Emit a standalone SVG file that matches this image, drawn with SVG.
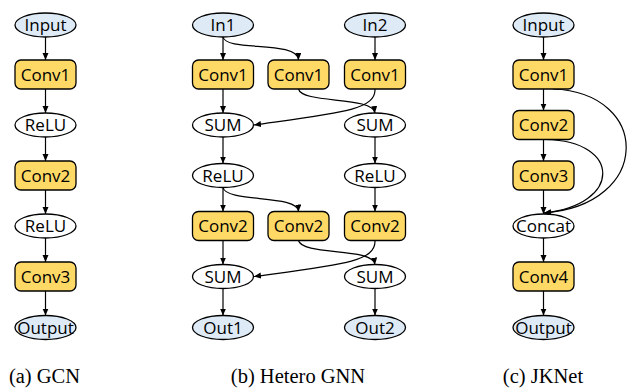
<svg xmlns="http://www.w3.org/2000/svg" width="627" height="389" viewBox="0 0 627 389">
<defs>
<style>
.io{fill:#deebf7;stroke:#000;stroke-width:1.3}
.op{fill:#fff;stroke:#000;stroke-width:1.3}
.cv{fill:#ffd966;stroke:#000;stroke-width:1.3}
.t{font-family:"Open Sans","Liberation Sans",sans-serif;font-size:17px;text-anchor:middle;fill:#000}
.cap{font-family:"Liberation Serif","Times New Roman",serif;font-size:20.5px;text-anchor:middle;fill:#000}
.e{fill:none;stroke:#000;stroke-width:1.2;marker-end:url(#ah)}
</style>
<marker id="ah" markerUnits="userSpaceOnUse" markerWidth="8" markerHeight="7" refX="7" refY="3" orient="auto">
<path d="M0,0 L7,3 L0,6 z" fill="#000"/>
</marker>
</defs>
<rect width="627" height="389" fill="#fff"/>

<g id="connectors">
<!-- GCN -->
<line class="e" x1="45.5" y1="37" x2="45.5" y2="60"/>
<line class="e" x1="45.5" y1="89" x2="45.5" y2="113"/>
<line class="e" x1="45.5" y1="137" x2="45.5" y2="161"/>
<line class="e" x1="45.5" y1="190" x2="45.5" y2="214"/>
<line class="e" x1="45.5" y1="238" x2="45.5" y2="262"/>
<line class="e" x1="45.5" y1="291" x2="45.5" y2="315.5"/>
<!-- Hetero -->
<line class="e" x1="223" y1="37" x2="223" y2="60"/>
<line class="e" x1="375" y1="37" x2="375" y2="60"/>
<path class="e" d="M223,37 C226,52 298,40 298.5,60"/>
<line class="e" x1="223" y1="89" x2="223" y2="113"/>
<path class="e" d="M298.5,89 C302,104 373,96 375,113"/>
<path class="e" d="M375,89 C376,110 340,113 254,125"/>
<line class="e" x1="223" y1="137" x2="223" y2="163.5"/>
<line class="e" x1="375" y1="137" x2="375" y2="163.5"/>
<line class="e" x1="223" y1="187.5" x2="223" y2="211.5"/>
<line class="e" x1="375" y1="187.5" x2="375" y2="211.5"/>
<path class="e" d="M223,187.5 C226,203 298,194 298.5,211.5"/>
<line class="e" x1="223" y1="240.5" x2="223" y2="264.5"/>
<path class="e" d="M298.5,240.5 C302,256 373,247 375,264.5"/>
<path class="e" d="M375,240.5 C376,262 340,265 254,276.5"/>
<line class="e" x1="223" y1="288.5" x2="223" y2="315.5"/>
<line class="e" x1="375" y1="288.5" x2="375" y2="315.5"/>
<!-- JKNet -->
<line class="e" x1="543.5" y1="37" x2="543.5" y2="60"/>
<line class="e" x1="543.5" y1="89" x2="543.5" y2="110.5"/>
<line class="e" x1="543.5" y1="139.5" x2="543.5" y2="161"/>
<line class="e" x1="543.5" y1="190" x2="543.5" y2="214"/>
<path class="e" d="M553,89 C652,93 652,205 544,213"/>
<path class="e" d="M546,139.5 C622,141 622,205 544,213"/>
<line class="e" x1="543.5" y1="238" x2="543.5" y2="262"/>
<line class="e" x1="543.5" y1="291" x2="543.5" y2="315.5"/>
</g>

<!-- GCN nodes -->
<g id="gcn-input"><ellipse class="io" cx="45.5" cy="25" rx="30.5" ry="12"/><text class="t" x="45.5" y="31">Input</text></g>
<g id="gcn-conv1"><rect class="cv" x="15" y="60" width="61" height="29" rx="6"/><text class="t" x="45.5" y="80.5">Conv1</text></g>
<g id="gcn-relu1"><ellipse class="op" cx="45.5" cy="125" rx="30.5" ry="12"/><text class="t" x="45.5" y="131">ReLU</text></g>
<g id="gcn-conv2"><rect class="cv" x="15" y="161" width="61" height="29" rx="6"/><text class="t" x="45.5" y="181.5">Conv2</text></g>
<g id="gcn-relu2"><ellipse class="op" cx="45.5" cy="226" rx="30.5" ry="12"/><text class="t" x="45.5" y="232">ReLU</text></g>
<g id="gcn-conv3"><rect class="cv" x="15" y="262" width="61" height="29" rx="6"/><text class="t" x="45.5" y="282.5">Conv3</text></g>
<g id="gcn-output"><ellipse class="io" cx="45.5" cy="327.5" rx="30.5" ry="12"/><text class="t" x="45.5" y="333.5">Output</text></g>

<!-- Hetero nodes -->
<g id="het-in1"><ellipse class="io" cx="223" cy="25" rx="30.5" ry="12"/><text class="t" x="223" y="31">In1</text></g>
<g id="het-in2"><ellipse class="io" cx="375" cy="25" rx="30.5" ry="12"/><text class="t" x="375" y="31">In2</text></g>
<g id="het-conv1a"><rect class="cv" x="192.5" y="60" width="61" height="29" rx="6"/><text class="t" x="223" y="80.5">Conv1</text></g>
<g id="het-conv1b"><rect class="cv" x="268" y="60" width="61" height="29" rx="6"/><text class="t" x="298.5" y="80.5">Conv1</text></g>
<g id="het-conv1c"><rect class="cv" x="344.5" y="60" width="61" height="29" rx="6"/><text class="t" x="375" y="80.5">Conv1</text></g>
<g id="het-sum1a"><ellipse class="op" cx="223" cy="125" rx="30.5" ry="12"/><text class="t" x="223" y="131">SUM</text></g>
<g id="het-sum1b"><ellipse class="op" cx="375" cy="125" rx="30.5" ry="12"/><text class="t" x="375" y="131">SUM</text></g>
<g id="het-relua"><ellipse class="op" cx="223" cy="175.5" rx="30.5" ry="12"/><text class="t" x="223" y="181.5">ReLU</text></g>
<g id="het-relub"><ellipse class="op" cx="375" cy="175.5" rx="30.5" ry="12"/><text class="t" x="375" y="181.5">ReLU</text></g>
<g id="het-conv2a"><rect class="cv" x="192.5" y="211.5" width="61" height="29" rx="6"/><text class="t" x="223" y="232">Conv2</text></g>
<g id="het-conv2b"><rect class="cv" x="268" y="211.5" width="61" height="29" rx="6"/><text class="t" x="298.5" y="232">Conv2</text></g>
<g id="het-conv2c"><rect class="cv" x="344.5" y="211.5" width="61" height="29" rx="6"/><text class="t" x="375" y="232">Conv2</text></g>
<g id="het-sum2a"><ellipse class="op" cx="223" cy="276.5" rx="30.5" ry="12"/><text class="t" x="223" y="282.5">SUM</text></g>
<g id="het-sum2b"><ellipse class="op" cx="375" cy="276.5" rx="30.5" ry="12"/><text class="t" x="375" y="282.5">SUM</text></g>
<g id="het-out1"><ellipse class="io" cx="223" cy="327.5" rx="30.5" ry="12"/><text class="t" x="223" y="333.5">Out1</text></g>
<g id="het-out2"><ellipse class="io" cx="375" cy="327.5" rx="30.5" ry="12"/><text class="t" x="375" y="333.5">Out2</text></g>

<!-- JKNet nodes -->
<g id="jk-input"><ellipse class="io" cx="543.5" cy="25" rx="30.5" ry="12"/><text class="t" x="543.5" y="31">Input</text></g>
<g id="jk-conv1"><rect class="cv" x="513" y="60" width="61" height="29" rx="6"/><text class="t" x="543.5" y="80.5">Conv1</text></g>
<g id="jk-conv2"><rect class="cv" x="513" y="110.5" width="61" height="29" rx="6"/><text class="t" x="543.5" y="131">Conv2</text></g>
<g id="jk-conv3"><rect class="cv" x="513" y="161" width="61" height="29" rx="6"/><text class="t" x="543.5" y="181.5">Conv3</text></g>
<g id="jk-concat"><ellipse class="op" cx="543.5" cy="226" rx="30.5" ry="12"/><text class="t" x="543.5" y="232">Concat</text></g>
<g id="jk-conv4"><rect class="cv" x="513" y="262" width="61" height="29" rx="6"/><text class="t" x="543.5" y="282.5">Conv4</text></g>
<g id="jk-output"><ellipse class="io" cx="543.5" cy="327.5" rx="30.5" ry="12"/><text class="t" x="543.5" y="333.5">Output</text></g>

<!-- captions -->
<text class="cap" x="44.5" y="383">(a) GCN</text>
<text class="cap" x="298" y="383">(b) Hetero GNN</text>
<text class="cap" x="543" y="383">(c) JKNet</text>
</svg>
